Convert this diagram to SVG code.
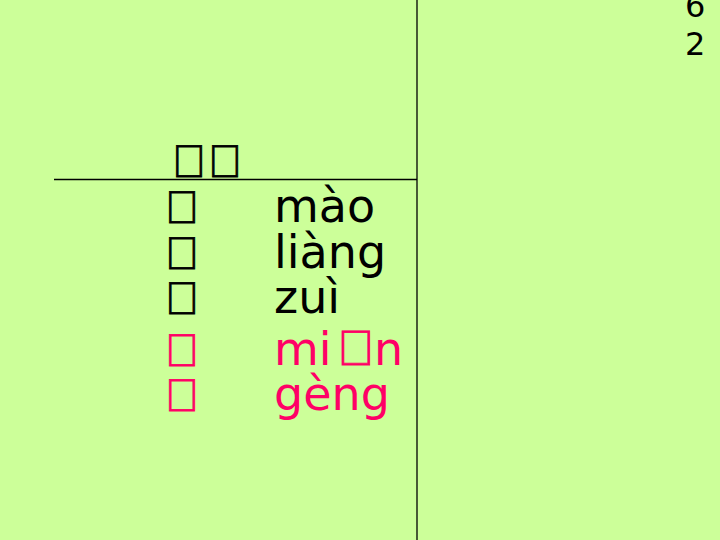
<svg xmlns="http://www.w3.org/2000/svg" width="720" height="540" viewBox="0 0 720 540">
<style>
.t{font-family:"DejaVu Sans",sans-serif;font-size:46px;fill:#000}
.c{font-family:"Liberation Sans",sans-serif;font-size:46px;stroke:#000;stroke-width:0.8}
.r{fill:#FF0066}
.c.r,.r .c{stroke:#FF0066}
.n{font-family:"DejaVu Sans",sans-serif;font-size:32px;fill:#000}
</style>
<rect width="720" height="540" fill="#CCFF99"/>
<g id="connectors" stroke="#000" stroke-width="1.3">
<line x1="417" y1="0" x2="417" y2="540"/>
<line x1="54" y1="179.5" x2="417" y2="179.5"/>
</g>
<g id="page-number"><text class="n" x="685" y="16.5">6</text><text class="n" x="685" y="55">2</text></g>
<g id="header"><text class="t c" x="172 208" y="177">&#xE000;&#xE001;</text></g>
<g id="row1"><text class="t c" x="165" y="223">&#xE002;</text><text class="t" x="274" y="222">mào</text></g>
<g id="row2"><text class="t c" x="165" y="269">&#xE003;</text><text class="t" x="274" y="268">liàng</text></g>
<g id="row3"><text class="t c" x="165" y="314">&#xE004;</text><text class="t" x="274" y="313">zuì</text></g>
<g id="row4"><text class="t c r" x="165" y="366">&#xE005;</text><text class="t r" x="274" y="365">mi<tspan class="c" style="font-size:50px" x="337">&#xE006;</tspan><tspan x="374">n</tspan></text></g>
<g id="row5"><text class="t c r" x="165" y="411">&#xE007;</text><text class="t r" x="274" y="410">gèng</text></g>
</svg>
